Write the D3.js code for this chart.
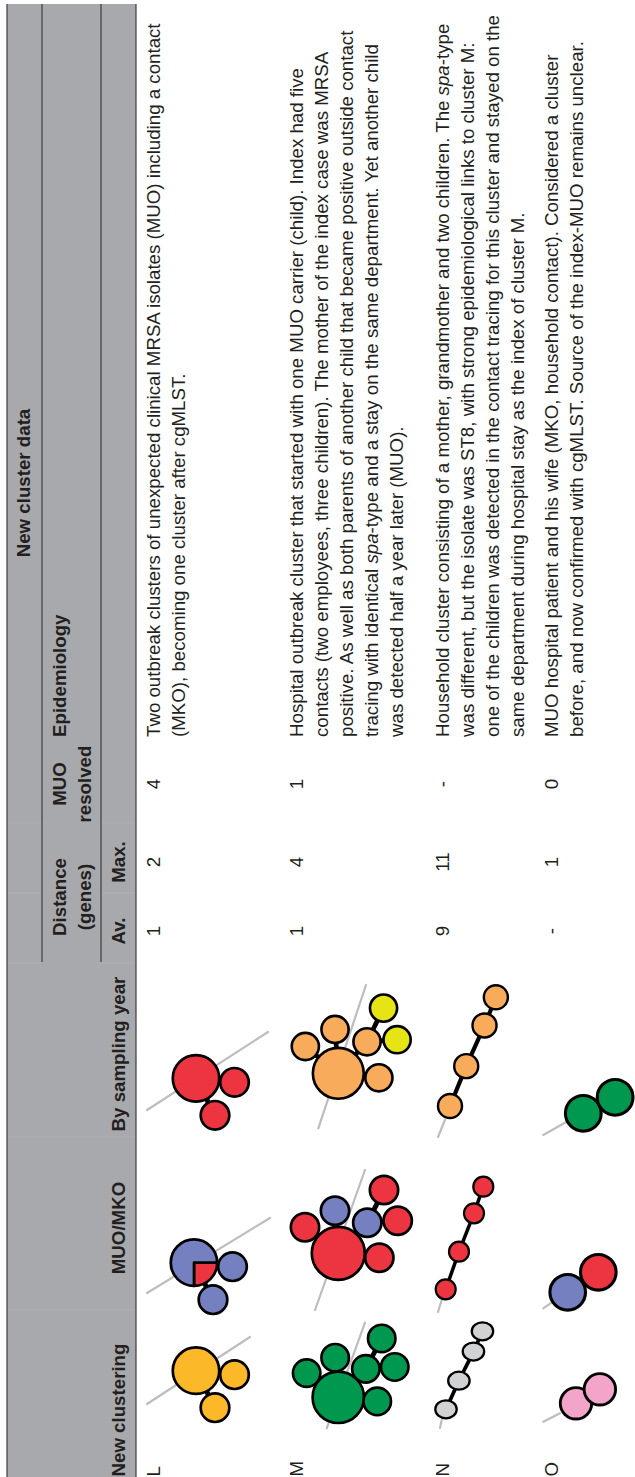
<!DOCTYPE html>
<html>
<head>
<meta charset="utf-8">
<script src="https://cdn.jsdelivr.net/npm/d3@7"></script>
<style>
  html, body { margin: 0; padding: 0; background: #fff; }
  svg { display: block; }
  text { font-family: "Liberation Sans", Arial, Helvetica, sans-serif; fill: #231f20; }
</style>
</head>
<body>
<div id="chart"></div>
<script>
// ---- table content ----
const clusters = ["L", "M", "N", "O"];
const avDistance = ["1", "1", "9", "-"];
const maxDistance = ["2", "4", "11", "1"];
const muoResolved = ["4", "1", "-", "0"];
const epidemiology = [
  ["Two outbreak clusters of unexpected clinical MRSA isolates (MUO) including a contact",
   "(MKO), becoming one cluster after cgMLST."],
  ["Hospital outbreak cluster that started with one MUO carrier (child). Index had five",
   "contacts (two employees, three children). The mother of the index case was MRSA",
   "positive. As well as both parents of another child that became positive outside contact",
   "tracing with identical *spa*-type and a stay on the same department. Yet another child",
   "was detected half a year later (MUO)."],
  ["Household cluster consisting of a mother, grandmother and two children. The *spa*-type",
   "was different, but the isolate was ST8, with strong epidemiological links to cluster M:",
   "one of the children was detected in the contact tracing for this cluster and stayed on the",
   "same department during hospital stay as the index of cluster M."],
  ["MUO hospital patient and his wife (MKO, household contact). Considered a cluster",
   "before, and now confirmed with cgMLST. Source of the index-MUO remains unclear."]
];

// ---- minimum spanning trees (node 0 is the root) ----
const treeIsolates = { L: [4, 1, 1], M: [6, 1, 1, 1, 1, 1, 1], N: [1, 1, 1, 1], O: [1, 1] };
const mkoIsolates  = { L: [1, 0, 0], M: [6, 1, 0, 0, 1, 1, 1], N: [1, 1, 1, 1], O: [0, 1] };
const yearGroup    = { L: [0, 0, 0], M: [1, 1, 1, 1, 2, 2, 1], N: [1, 1, 1, 1], O: [3, 3] };
const treeLinks = {
  L: [[0, 1], [0, 2]],
  M: [[0, 1], [0, 2], [0, 3], [3, 4], [3, 5], [0, 6]],
  N: [[0, 1], [1, 2], [2, 3]],
  O: [[0, 1]]
};
// tree layout in layout units
const treeLayout = {
  L: [[0, 0], [38.5, 4], [19, 37]],
  M: [[0, 0], [-33.3, -26], [-3.3, -42.6], [29, -30.6], [45.7, -63.3], [59.4, -32.6], [41, 4.4]],
  N: [[0, 0], [13.3, -37.6], [28.3, -76], [37.6, -102.6]],
  O: [[0, 0], [30.6, -20]]
};

// ---- colours ----
const clusterColor = { L: "#fbb92a", M: "#00984f", N: "#d0d2d3", O: "#f2a5c9" };
const yearColors = ["#ec3540", "#f8ab5b", "#e6e415", "#00984f"];
const MUO_COLOR = "#7480bf", MKO_COLOR = "#ec3540";

// ---- page ----
const PAGE_W = 635, PAGE_H = 1477;
const svg = d3.select("#chart").append("svg")
  .attr("width", PAGE_W).attr("height", PAGE_H)
  .attr("viewBox", `0 0 ${PAGE_W} ${PAGE_H}`);

// the table is laid out landscape and turned a quarter turn
const T = svg.append("g").attr("transform", `translate(0,${PAGE_H}) rotate(-90)`);

const FS = 18.7, LEAD = 25;
const HEAD_TOP = 7, HEAD_BOT = 136, RULE1 = 42, RULE2 = 101, TABLE_END = 1473, GROUP_START = 515;

// header band
T.append("rect").attr("x", 0).attr("y", HEAD_TOP).attr("width", TABLE_END)
  .attr("height", HEAD_BOT - HEAD_TOP).attr("fill", "#a7a9ac");

// faint cell borders inside the header
const faint = T.append("g").attr("stroke", "#afb0b4").attr("stroke-width", 1);
[167, 340].forEach(u => faint.append("line").attr("x1", u).attr("x2", u).attr("y1", HEAD_TOP).attr("y2", HEAD_BOT));
[514, 584, 654].forEach(u => {
  faint.append("line").attr("x1", u).attr("x2", u).attr("y1", HEAD_TOP).attr("y2", RULE1);
  faint.append("line").attr("x1", u).attr("x2", u).attr("y1", RULE2).attr("y2", HEAD_BOT);
});

const rules = T.append("g").attr("stroke", "#3b3b3d").attr("stroke-width", 1.2);
rules.append("line").attr("x1", 0).attr("x2", TABLE_END).attr("y1", HEAD_TOP).attr("y2", HEAD_TOP);
rules.append("line").attr("x1", 0).attr("x2", TABLE_END).attr("y1", HEAD_BOT).attr("y2", HEAD_BOT);
rules.append("line").attr("x1", GROUP_START).attr("x2", TABLE_END).attr("y1", RULE1).attr("y2", RULE1);
rules.append("line").attr("x1", GROUP_START).attr("x2", TABLE_END).attr("y1", RULE2).attr("y2", RULE2);

// column positions along the table
const colX = d3.scaleOrdinal()
  .domain(["label", "new", "muo", "year", "av", "max", "res", "epi"])
  .range([0.5, 0.5, 249, 423, 546, 615, 693, 740]);
const rowY = d3.scaleOrdinal().domain(clusters).range([159.5, 303, 448.5, 557.5]);

function headText(txt, x, y, anchor) {
  T.append("text").attr("x", x).attr("y", y).attr("text-anchor", anchor || "middle")
    .attr("font-size", FS).attr("font-weight", 700).text(txt);
}
headText("New cluster data", 994, 30.3);
headText("Distance", 580, 65.5);
headText("(genes)", 580, 91);
headText("MUO", colX("res"), 65.5);
headText("resolved", colX("res"), 91);
headText("Epidemiology", colX("epi"), 65.5, "start");
headText("New clustering", colX("new"), 125.3, "start");
headText("MUO/MKO", colX("muo"), 125.3);
headText("By sampling year", colX("year"), 125.3);
headText("Av.", colX("av"), 125.3);
headText("Max.", colX("max"), 125.3);

// body rows
clusters.forEach((c, i) => {
  const y = rowY(c);
  const cell = (txt, key, anchor) => T.append("text").attr("x", colX(key)).attr("y", y)
    .attr("text-anchor", anchor).attr("font-size", FS).text(txt);
  cell(c, "label", "start");
  cell(avDistance[i], "av", "middle");
  cell(maxDistance[i], "max", "middle");
  cell(muoResolved[i], "res", "middle");
  epidemiology[i].forEach((line, j) => {
    const t = T.append("text").attr("x", colX("epi")).attr("y", y + j * LEAD).attr("font-size", FS);
    line.split("*").forEach((part, k) => {
      if (!part) return;
      t.append("tspan").attr("font-style", k % 2 ? "italic" : "normal").text(part);
    });
  });
});

// ---- tree pictures (page orientation) ----
// frame of each picture: root position on the page, axis stretch and node zoom
const treeFrames = {
  new: {
    L: { x: 196,   y: 1370.7, kx: 1,    ky: 1,    kr: 1,    bg: [[-49, 33.3], [54, -33.7]] },
    M: { x: 338.3, y: 1397.3, kx: 0.95, ky: 0.93, kr: 0.96, bg: [[26.7, -74.6], [-11.6, 31]] },
    N: { x: 446,   y: 1409.3, kx: 0.97, ky: 0.76, kr: 0.75, sq: 0.84, bg: [[-4.3, 10.7], [-6, 18.7]] },
    O: { x: 576,   y: 1403.3, kx: 0.78, ky: 0.7,  kr: 1.1,  bg: [[-32.7, 18.4], [-16, 10]] }
  },
  muo: {
    L: { x: 194,   y: 1262.7, kx: 1, ky: 1, kr: 1,     bg: [[-47, 30.3], [76, -44.7]] },
    M: { x: 338.3, y: 1253.3, kx: 1, ky: 1, kr: 0.99,  bg: [[26.7, -83.3], [-23.3, 56.7]] },
    N: { x: 445.7, y: 1289.3, kx: 1, ky: 1, kr: 0.7,   bg: [[-4, 10.7], [-7.7, 22.7]] },
    O: { x: 567.7, y: 1292.3, kx: 1, ky: 1, kr: 1.245, bg: [[-24.4, 16], [-14.7, 9.4]] }
  },
  year: {
    L: { x: 196,   y: 1078.3, kx: 1,    ky: 1,    kr: 1,    bg: [[-49, 31.7], [72, -46.3]] },
    M: { x: 338.3, y: 1073.3, kx: 0.99, ky: 1.03, kr: 0.95, bg: [[27.7, -88.3], [-20, 55]] },
    N: { x: 450,   y: 1106,   kx: 1.22, ky: 1.06, kr: 0.84, bg: [[-5, 14], [-12, 31]] },
    O: { x: 583.3, y: 1113.3, kx: 1.04, ky: 0.8,  kr: 1.25, bg: [[-40, 21.7], [-16.6, 8.4]] }
  }
};

const BASE_R = 14.3;
const pie = d3.pie().sort(null).value(d => d.n).startAngle(Math.PI / 2).endAngle(Math.PI / 2 + 2 * Math.PI);
const net = svg.append("g");

Object.keys(treeFrames).forEach(col => {
  clusters.forEach(c => {
    const f = treeFrames[col][c];
    const sx = d3.scaleLinear().domain([0, 1]).range([f.x, f.x + f.kx]);
    const sy = d3.scaleLinear().domain([0, 1]).range([f.y, f.y + f.ky]);
    const rs = d3.scalePow().exponent(0.35).domain([0, 1]).range([0, BASE_R * f.kr]);
    const sw = 2.7 * Math.pow(f.kr, 0.6);
    const cell = net.append("g");

    // screenshot backdrop line
    cell.append("line")
      .attr("x1", f.x + f.bg[0][0]).attr("y1", f.y + f.bg[0][1])
      .attr("x2", f.x + f.bg[1][0]).attr("y2", f.y + f.bg[1][1])
      .attr("stroke", "#bdbdbd").attr("stroke-width", 2.2).attr("stroke-linecap", "round");

    const pts = treeLayout[c];
    cell.selectAll("line.link").data(treeLinks[c]).join("line").attr("class", "link")
      .attr("x1", d => sx(pts[d[0]][0])).attr("y1", d => sy(pts[d[0]][1]))
      .attr("x2", d => sx(pts[d[1]][0])).attr("y2", d => sy(pts[d[1]][1]))
      .attr("stroke", "#000").attr("stroke-width", 5 * f.kr);

    treeIsolates[c].forEach((n, i) => {
      const r = rs(n);
      let slices;
      if (col === "new") slices = [{ n: 1, color: clusterColor[c] }];
      else if (col === "year") slices = [{ n: 1, color: yearColors[yearGroup[c][i]] }];
      else slices = [{ n: mkoIsolates[c][i], color: MKO_COLOR }, { n: n - mkoIsolates[c][i], color: MUO_COLOR }]
        .filter(s => s.n > 0);
      const node = cell.append("g")
        .attr("transform", `translate(${sx(pts[i][0])},${sy(pts[i][1])}) scale(1,${f.sq || 1})`);
      const arc = d3.arc().innerRadius(0).outerRadius(r);
      node.selectAll("path").data(pie(slices)).join("path")
        .attr("d", arc).attr("fill", d => d.data.color)
        .attr("stroke", "#000").attr("stroke-width", sw)
        .attr("stroke-linejoin", "round")
        .attr("vector-effect", "non-scaling-stroke");
    });
  });
});
</script>
</body>
</html>
